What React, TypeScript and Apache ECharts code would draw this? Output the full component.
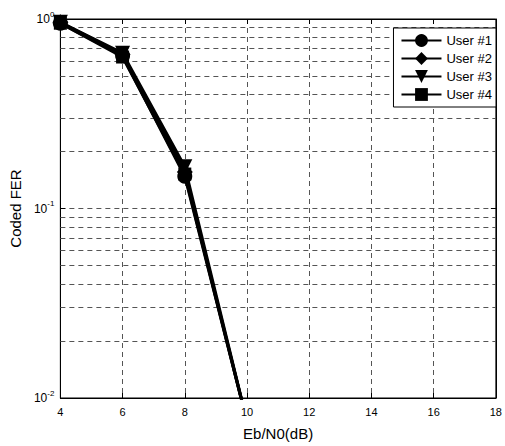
import React, { useEffect, useRef } from "react";
import * as echarts from "echarts";

const ebn0 = [4, 6, 8, 10];
const user1 = [0.95, 0.64, 0.148, 0.0075];
const user2 = [0.96, 0.65, 0.156, 0.0075];
const user3 = [0.96, 0.66, 0.166, 0.0075];
const user4 = [0.95, 0.63, 0.152, 0.0075];
const seriesNames = ["User #1", "User #2", "User #3", "User #4"];
const minorY = [0.02, 0.03, 0.04, 0.05, 0.06, 0.07, 0.08, 0.09, 0.2, 0.3, 0.4, 0.5, 0.6, 0.7, 0.8, 0.9];

const FONT = "Liberation Sans, Arial, sans-serif";

export default function App() {
  const ref = useRef<HTMLDivElement>(null);
  useEffect(() => {
    if (!ref.current) return;
    const chart = echarts.init(ref.current, null, { renderer: "svg" });
    const values = [user1, user2, user3, user4];
    const symbols = ["circle", "diamond", "triangle", "rect"];
    const rot = [0, 0, 180, 0];
    const sizes = [15, 16, 15, 13];
    const dash = { type: [5, 4] as any, color: "#555", width: 1 };
    const mk = (i: number) => ({
      name: seriesNames[i],
      type: "line",
      data: ebn0.map((x, j) => [x, values[i][j]]),
      symbol: symbols[i],
      symbolRotate: rot[i],
      symbolSize: sizes[i],
      lineStyle: { color: "#000", width: 3 },
      itemStyle: { color: "#000" },
      clip: true,
      z: 5,
    });
    chart.setOption({
      animation: false,
      textStyle: { fontFamily: FONT },
      grid: { left: 60, right: 7, top: 19, bottom: 46, show: true, borderColor: "#000", borderWidth: 1, backgroundColor: "#fff" },
      legend: {
        data: seriesNames,
        orient: "vertical",
        right: 9,
        top: 28,
        z: 20,
        backgroundColor: "#fff",
        borderColor: "#000",
        borderWidth: 1,
        borderRadius: 0,
        padding: [6, 4, 6, 7],
        itemGap: 5,
        itemWidth: 40,
        itemHeight: 16,
        lineStyle: { width: 2 },
        textStyle: { fontFamily: FONT, fontSize: 13, color: "#000" },
      },
      xAxis: [
        {
          type: "value",
          min: 4,
          max: 18,
          interval: 2,
          name: "Eb/N0(dB)",
          nameLocation: "middle",
          nameGap: 28,
          nameTextStyle: { fontFamily: FONT, fontSize: 15, color: "#000" },
          axisLine: { lineStyle: { color: "#000" } },
          axisTick: { inside: true, length: 5, lineStyle: { color: "#000" } },
          axisLabel: { fontFamily: FONT, fontSize: 11, color: "#000", margin: 8 },
          splitLine: { show: true, lineStyle: dash },
        },
        {
          type: "value",
          position: "top",
          min: 4,
          max: 18,
          interval: 2,
          axisLine: { lineStyle: { color: "#000" } },
          axisTick: { inside: true, length: 5, lineStyle: { color: "#000" } },
          axisLabel: { show: false },
          splitLine: { show: false },
        },
      ],
      yAxis: [
        {
          type: "log",
          logBase: 10,
          min: 0.01,
          max: 1,
          name: "Coded FER",
          nameLocation: "middle",
          nameGap: 36,
          nameTextStyle: { fontFamily: FONT, fontSize: 15, color: "#000" },
          axisLine: { lineStyle: { color: "#000" } },
          axisTick: { inside: true, length: 5, lineStyle: { color: "#000" } },
          axisLabel: {
            fontFamily: FONT,
            color: "#000",
            margin: 6,
            formatter: (v: number) => `{b|10}{s|${Math.round(Math.log10(v))}}`,
            rich: {
              b: { fontFamily: FONT, fontSize: 12, color: "#000" },
              s: { fontFamily: FONT, fontSize: 8, color: "#000", padding: [0, 0, 10, 0] },
            },
          },
          splitLine: { show: true, lineStyle: dash },
        },
        {
          type: "log",
          logBase: 10,
          min: 0.01,
          max: 1,
          position: "right",
          axisLine: { lineStyle: { color: "#000" } },
          axisTick: { inside: true, length: 5, lineStyle: { color: "#000" } },
          axisLabel: { show: false },
          splitLine: { show: false },
        },
      ],
      series: [
        {
          name: "minor",
          type: "line",
          data: [],
          silent: true,
          z: 1,
          markLine: {
            silent: true,
            z: 1,
            symbol: ["none", "none"],
            label: { show: false },
            lineStyle: dash,
            data: minorY.map((v) => ({ yAxis: v })),
          },
        },
        mk(0),
        mk(1),
        mk(2),
        mk(3),
      ],
    });
    return () => chart.dispose();
  }, []);
  return <div ref={ref} style={{ position: "absolute", left: 0, top: 0, width: 505, height: 446 }} />;
}
